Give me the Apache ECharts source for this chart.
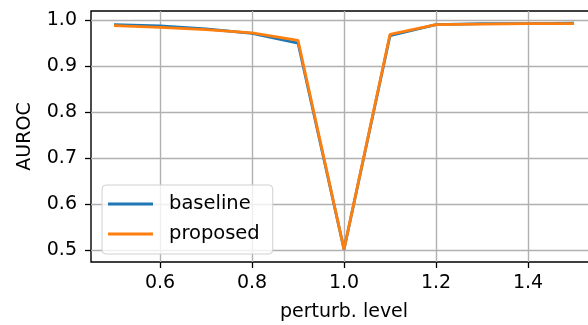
<!DOCTYPE html>
<html>
<head>
<meta charset="utf-8">
<script src="https://cdn.jsdelivr.net/npm/echarts@6/dist/echarts.min.js"></script>
<style>
  html, body { margin: 0; padding: 0; background: #fff; }
  #chart { width: 588px; height: 325px; }
</style>
</head>
<body>
<div id="chart"></div>
<script>
const levels = [0.5, 0.6, 0.7, 0.8, 0.9, 1.0, 1.1, 1.2, 1.3, 1.4, 1.5];
const baseline = [0.990, 0.987, 0.981, 0.971, 0.950, 0.502, 0.966, 0.990, 0.992, 0.992, 0.993];
const proposed = [0.988, 0.984, 0.979, 0.972, 0.956, 0.502, 0.969, 0.990, 0.991, 0.992, 0.992];
const xTicks = [0.6, 0.8, 1.0, 1.2, 1.4];
const yTicks = [0.5, 0.6, 0.7, 0.8, 0.9, 1.0];

const font = 'DejaVu Sans';
const chart = echarts.init(document.getElementById('chart'));

const axisCommon = {
  type: 'value',
  axisLine: { show: false },
  axisTick: { show: true, inside: false, length: 6, lineStyle: { color: '#000', width: 1.3 } },
  axisLabel: { color: '#000', fontFamily: font, fontSize: 19 },
  splitLine: { show: true, lineStyle: { color: '#b0b0b0', width: 1.4 } },
  nameLocation: 'middle',
  nameTextStyle: { color: '#000', fontFamily: font, fontSize: 19 },
};

chart.setOption({
  animation: false,
  backgroundColor: '#fff',
  grid: {
    left: 91, top: 11, width: 506, height: 251,
    outerBoundsMode: 'none', containLabel: false,
    show: true, borderColor: '#000', borderWidth: 1.4, backgroundColor: 'transparent',
  },
  legend: {
    data: ['baseline', 'proposed'],
    orient: 'vertical',
    left: 102, top: 185,
    padding: [9, 13, 10, 6],
    itemGap: 10,
    itemWidth: 45, itemHeight: 3,
    icon: 'rect',
    backgroundColor: 'rgba(255,255,255,0.8)',
    borderColor: '#d0d0d0', borderWidth: 1, borderRadius: 4,
    textStyle: { color: '#000', fontFamily: font, fontSize: 19.5, padding: [0, 0, 0, 11] },
  },
  xAxis: {
    ...axisCommon,
    min: 0.45, max: 1.55,
    name: 'perturb. level', nameGap: 41,
    axisTick: { ...axisCommon.axisTick, customValues: xTicks },
    axisLabel: { ...axisCommon.axisLabel, customValues: xTicks, margin: 12,
      formatter: v => v.toFixed(1) },
  },
  yAxis: {
    ...axisCommon,
    min: 0.4745, max: 1.0196,
    name: 'AUROC', nameGap: 56,
    axisTick: { ...axisCommon.axisTick, customValues: yTicks },
    axisLabel: { ...axisCommon.axisLabel, customValues: yTicks, margin: 14,
      formatter: v => v.toFixed(1) },
  },
  series: [
    {
      name: 'baseline', type: 'line', symbol: 'none',
      data: levels.map((x, i) => [x, baseline[i]]),
      lineStyle: { color: '#1f77b4', width: 2.8 }, itemStyle: { color: '#1f77b4' },
    },
    {
      name: 'proposed', type: 'line', symbol: 'none',
      data: levels.map((x, i) => [x, proposed[i]]),
      lineStyle: { color: '#ff7f0e', width: 2.8 }, itemStyle: { color: '#ff7f0e' },
    },
  ],
});
</script>
</body>
</html>
